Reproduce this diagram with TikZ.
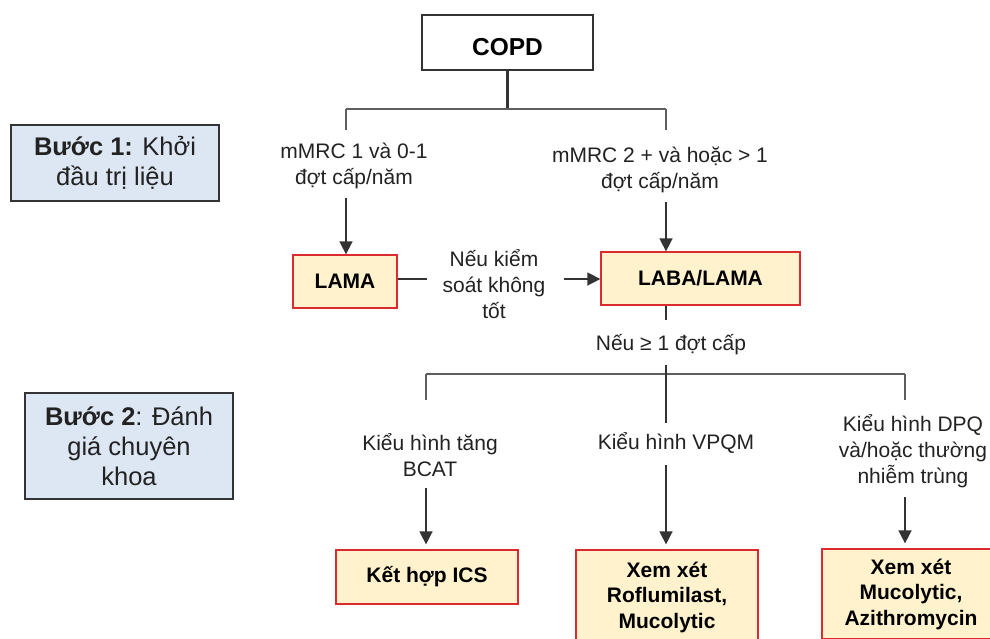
\documentclass[tikz,border=0pt]{standalone}
\usepackage{fontspec}
\setmainfont{Liberation Sans}
\usetikzlibrary{arrows.meta}
\definecolor{boxred}{HTML}{DD2A2F}
\definecolor{boxfill}{HTML}{FFF2CC}
\definecolor{stepfill}{HTML}{DCE7F3}
\definecolor{linegray}{HTML}{5E5E5E}
\definecolor{darkline}{HTML}{333333}
\definecolor{txt}{HTML}{222222}
\begin{document}
\begin{tikzpicture}[x=1pt,y=-1pt,
  redbox/.style={draw=boxred, line width=1.3pt, fill=boxfill, text=black,
    font=\fontsize{21}{25.5}\selectfont\bfseries, align=center, inner sep=0pt},
  stepbox/.style={draw=darkline, line width=1.3pt, fill=stepfill, text=txt,
    font=\fontsize{25.5}{30}\selectfont, align=center, inner sep=0pt},
  lbl/.style={font=\fontsize{21}{26}\selectfont, align=center, inner sep=0pt, text=txt},
  ln/.style={draw=linegray, line width=1.9pt},
  dk/.style={draw=darkline, line width=2.2pt},
  arr/.style={draw=darkline, line width=1.6pt, -{Triangle[width=13pt,length=13pt]}},
]
\useasboundingbox (0,0) rectangle (990,638);
\clip (0,0) rectangle (990,638);
\fill[white] (0,0) rectangle (990,638);

% boxes
\node[draw=darkline, line width=1.3pt, fill=white, minimum width=171pt, minimum height=55pt,
  font=\fontsize{24.5}{28}\selectfont\bfseries, inner sep=0pt,
  text height=26pt, text depth=0pt] (copd) at (507.5,42.5) {COPD};
\node[stepbox, minimum width=208pt, minimum height=76pt] (step1) at (115,163)
  {\textbf{Bước 1:} Khởi\\đầu trị liệu};
\node[stepbox, minimum width=208pt, minimum height=106pt] (step2) at (129,446)
  {\textbf{Bước 2}: Đánh\\giá chuyên\\khoa};
\node[redbox, minimum width=104pt, minimum height=53pt] (lama) at (345,281.5) {LAMA};
\node[redbox, minimum width=199pt, minimum height=53pt] (laba) at (700.5,278.5) {LABA/LAMA};
\node[redbox, minimum width=182pt, minimum height=54pt] (ics) at (427,577) {Kết hợp ICS};
\node[redbox, minimum width=182pt, minimum height=94pt] (mid) at (667,597)
  {Xem xét\\Roflumilast,\\Mucolytic};
\node[redbox, minimum width=178pt, minimum height=90pt] (rgt) at (911,594)
  {Xem xét\\Mucolytic,\\Azithromycin};

% labels
\node[lbl] (lab1) at (354,166) {mMRC 1 và 0-1\\đợt cấp/năm};
\node[lbl] (lab2) at (660,170) {mMRC 2 + và hoặc > 1\\đợt cấp/năm};
\node[lbl] (lab3) at (494,284) {Nếu kiểm\\soát không\\tốt};
\node[lbl] (lab4) at (671,345) {Nếu ≥ 1 đợt cấp};
\node[lbl] (lab5) at (430,455) {Kiểu hình tăng\\BCAT};
\node[lbl] (lab6) at (676,443) {Kiểu hình VPQM};
\node[lbl] (lab7) at (913,451) {Kiểu hình DPQ\\và/hoặc thường\\nhiễm trùng};

% junction coordinates
\coordinate (j1) at (507.5,109);
\coordinate (jl) at (346,109);
\coordinate (jr) at (666,109);
\coordinate (jl2) at (346,130);
\coordinate (jr2) at (666,130);
\coordinate (al) at (346,198);
\coordinate (ar) at (666,202);
\coordinate (m1) at (427,279);
\coordinate (m2) at (564,279);
\coordinate (k1) at (666,320);
\coordinate (k2) at (666,365);
\coordinate (k3) at (666,423);
\coordinate (k4) at (666,465);
\coordinate (bl) at (426,374);
\coordinate (br) at (905,374);
\coordinate (bl2) at (426,400);
\coordinate (br2) at (905,400);
\coordinate (a5) at (426,488);
\coordinate (a7) at (905,497);

% connectors
\draw[dk] (copd.south -| j1) -- (j1);
\draw[ln] (jl) -- (jr);
\draw[ln] (jl) -- (jl2);
\draw[ln] (jr) -- (jr2);
\draw[arr] (al) -- (al |- lama.north);
\draw[arr] (ar) -- (ar |- laba.north);
\draw[dk] (lama.east |- m1) -- (m1);
\draw[arr] (m2) -- (m2 -| laba.west);
\draw[dk] (k1 |- laba.south) -- (k1);
\draw[ln] (bl) -- (br);
\draw[ln] (bl) -- (bl2);
\draw[ln] (br) -- (br2);
\draw[dk] (k2) -- (k3);
\draw[arr, shorten >=5pt] (a5) -- (a5 |- ics.north);
\draw[arr, shorten >=5pt] (k4) -- (k4 |- mid.north);
\draw[arr, shorten >=5pt] (a7) -- (a7 |- rgt.north);
\end{tikzpicture}
\end{document}
